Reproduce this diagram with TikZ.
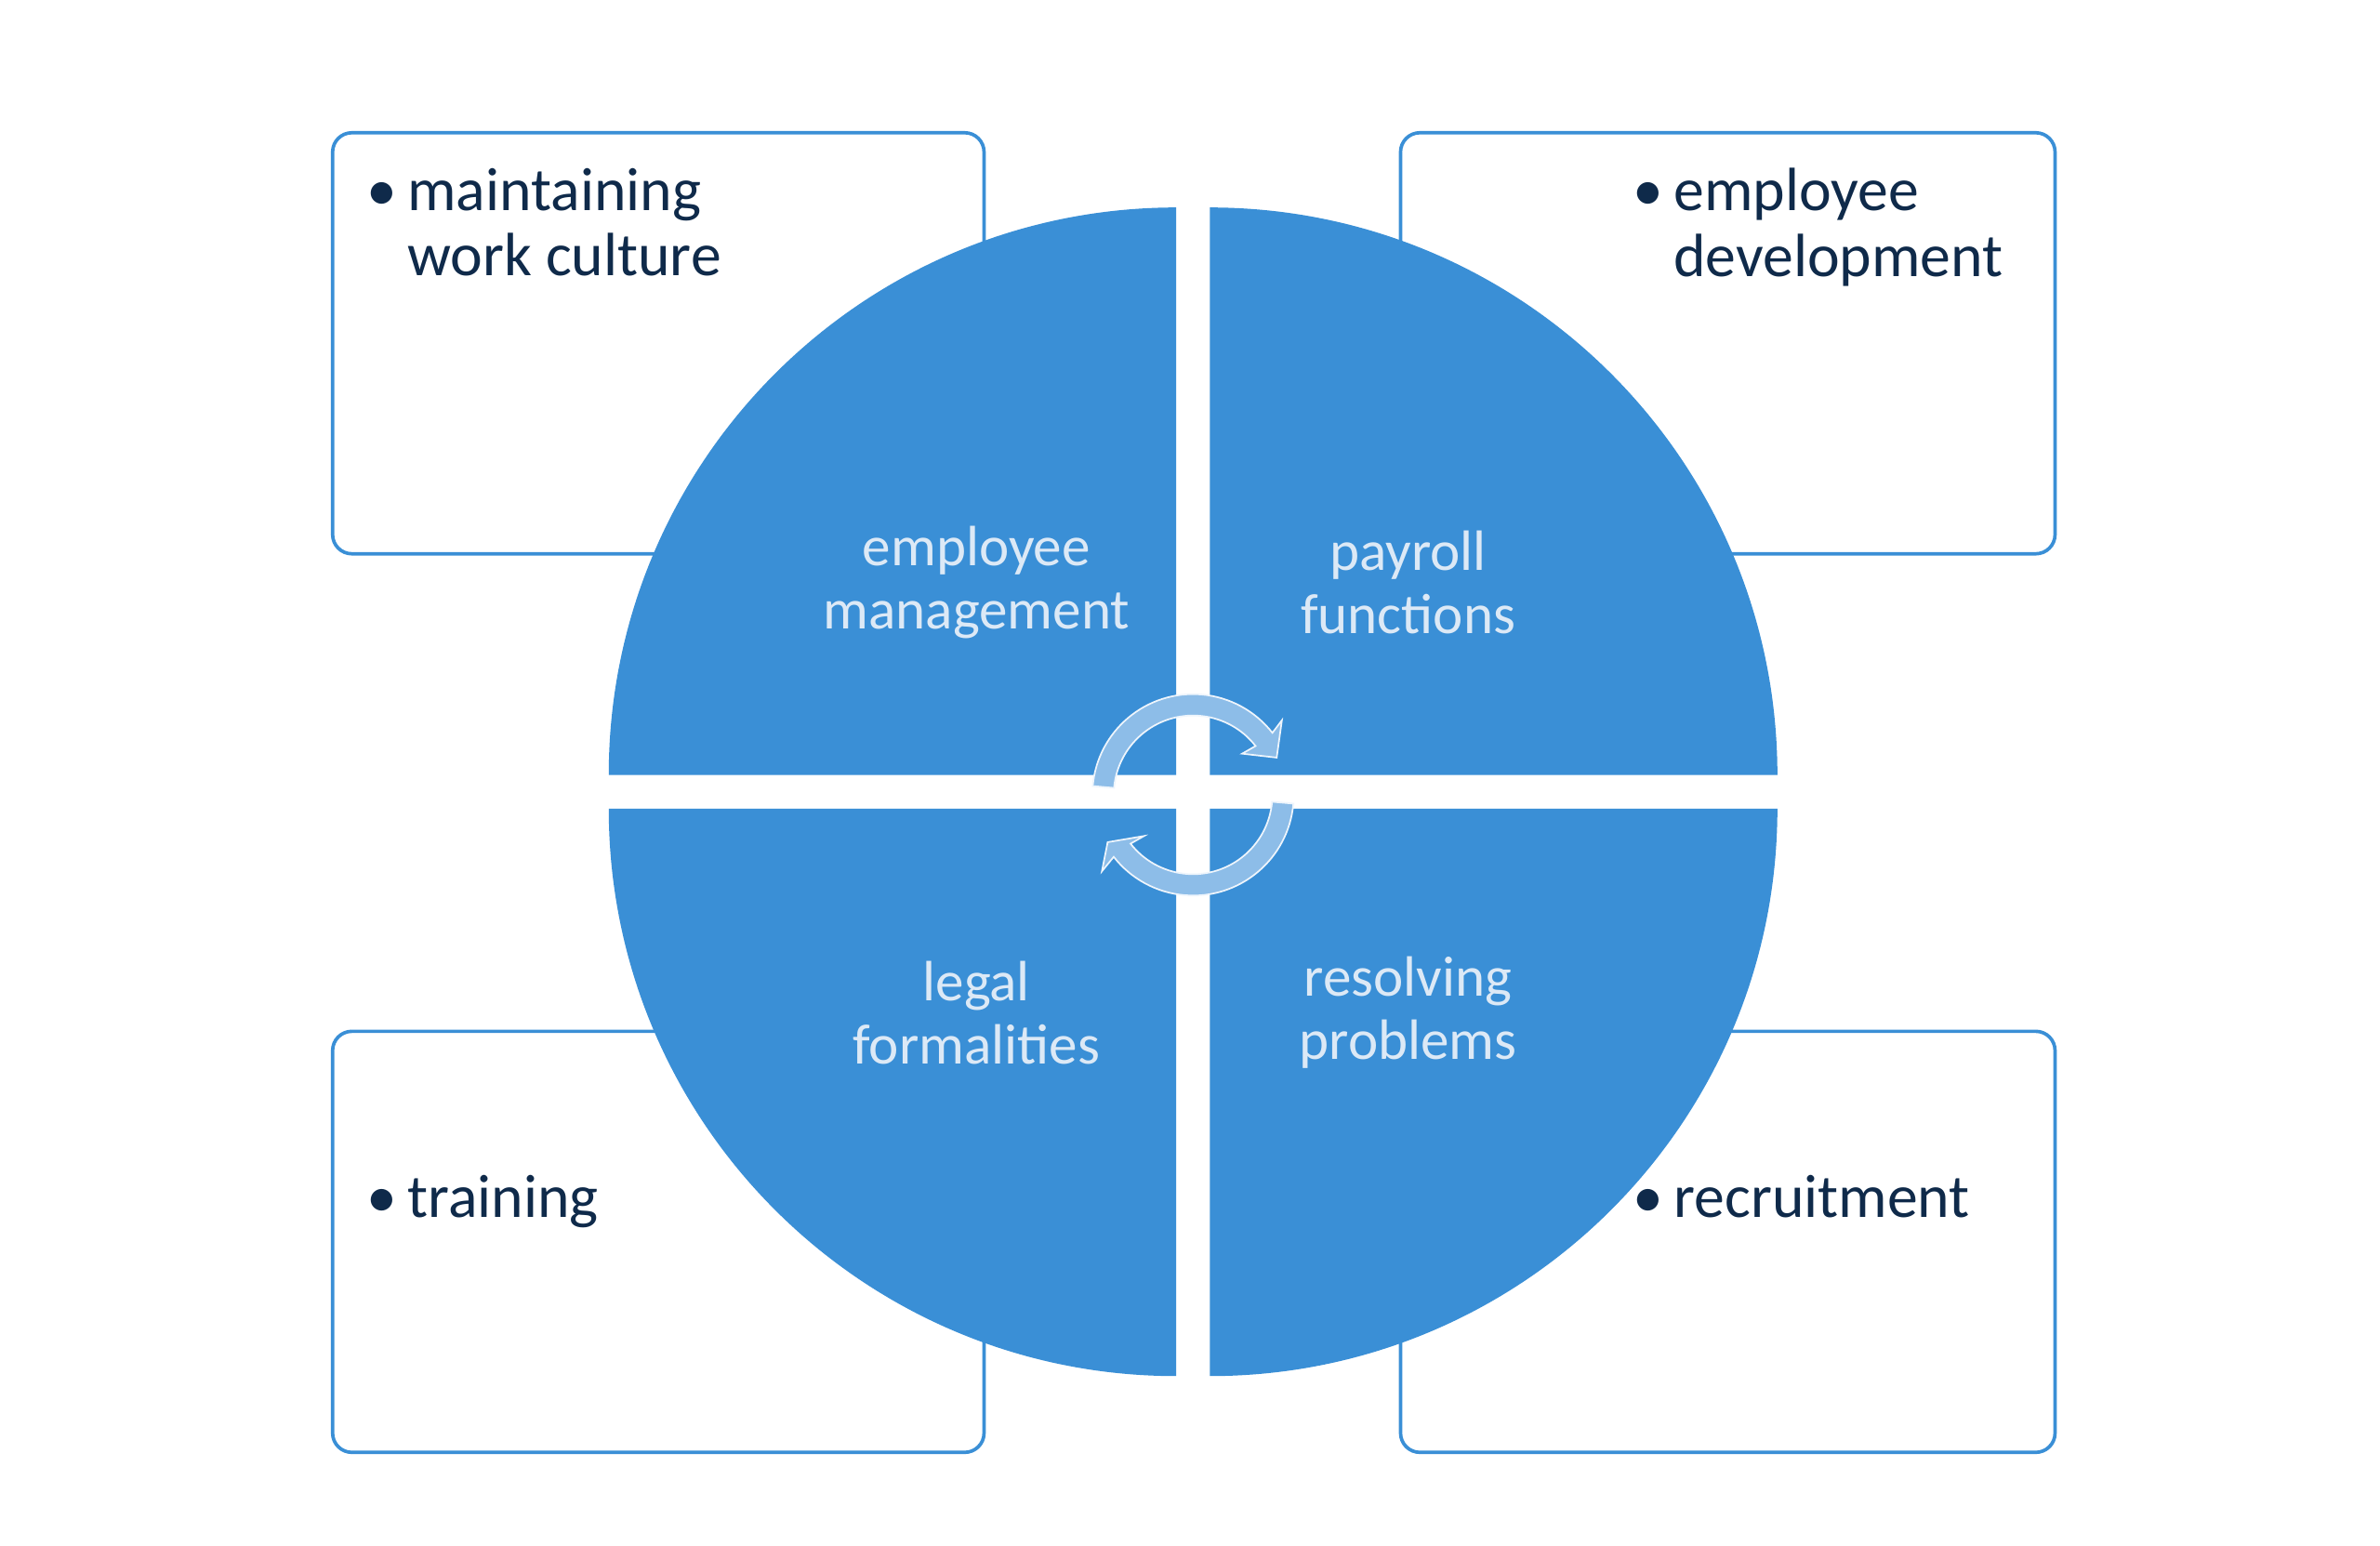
\documentclass[tikz,border=0pt]{standalone}
\usepackage{fontspec}
\setmainfont{Carlito}
\usetikzlibrary{calc}
\begin{document}
\begin{tikzpicture}[x=0.05cm,y=-0.05cm]
\definecolor{qblue}{HTML}{3A8FD6}
\definecolor{navy}{HTML}{0F2A4A}
\definecolor{qtext}{HTML}{DCE9F6}
\definecolor{arrfill}{HTML}{8DBDE8}
\tikzset{
  box/.style={draw=qblue,line width=3.2pt,rounded corners=18pt,fill=white},
  quad/.style={fill=qblue},
  btext/.style={text=navy,font=\fontsize{57}{61}\selectfont,align=left,anchor=north west},
  qlabel/.style={text=qtext,font=\fontsize{53}{59}\selectfont,align=center},
  arr/.style={fill=arrfill,draw=white!85!arrfill,line width=1.5pt}
}
\useasboundingbox (0,0) rectangle (1560,1013);
\fill[white] (0,0) rectangle (1560,1013);
% boxes
\draw[box] (218,87) rectangle (645,363);
\draw[box] (918,87) rectangle (1347,363);
\draw[box] (218,676) rectangle (645,952);
\draw[box] (918,676) rectangle (1347,952);
% quadrants
\fill[quad] (771,508) -- (399,508) arc[start angle=180,end angle=270,radius=372] -- cycle;
\fill[quad] (793,508) -- (793,136) arc[start angle=270,end angle=360,radius=372] -- cycle;
\fill[quad] (771,530) -- (771,902) arc[start angle=90,end angle=180,radius=372] -- cycle;
\fill[quad] (793,530) -- (1165,530) arc[start angle=0,end angle=90,radius=372] -- cycle;
% circular arrows
\coordinate (c) at (782,521);
\path[arr] ($(c)+({66*cos(175)},{-66*sin(175)})$) arc[start angle=-175,end angle=-38,radius=66]
  -- ($(c)+({76*cos(40)},{-76*sin(40)})$) -- ($(c)+({60*cos(24)},{-60*sin(24)})$)
  -- ($(c)+({42*cos(40)},{-42*sin(40)})$) -- ($(c)+({52*cos(38)},{-52*sin(38)})$)
  arc[start angle=-38,end angle=-175,radius=52] -- cycle;
\path[arr] ($(c)+({66*cos(-5)},{-66*sin(-5)})$) arc[start angle=5,end angle=142,radius=66]
  -- ($(c)+({78*cos(-140)},{-78*sin(-140)})$) -- ($(c)+({64*cos(-151)},{-64*sin(-151)})$)
  -- ($(c)+({42*cos(-140)},{-42*sin(-140)})$) -- ($(c)+({52*cos(-142)},{-52*sin(-142)})$)
  arc[start angle=142,end angle=5,radius=52] -- cycle;
% quadrant labels
\node[qlabel] (q1) at (640,382) {employee\\management};
\node[qlabel] (q2) at (923,382) {payroll\\functions};
\node[qlabel] (q3) at (640,664) {legal\\formalities};
\node[qlabel] (q4) at (923,664) {resolving\\problems};
% box labels
\node[btext] (t1) at (238,108) {•\,maintaining\\\phantom{•\,}work culture};
\node[btext] (t2) at (1068,108) {•\,employee\\\phantom{•\,}development};
\node[btext] (t3) at (238,768) {•\,training};
\node[btext] (t4) at (1068,768) {•\,recruitment};
\end{tikzpicture}
\end{document}
